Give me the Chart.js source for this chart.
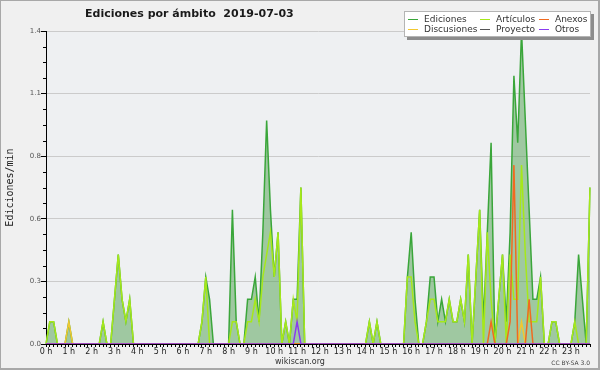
<!DOCTYPE html>
<html>
<head>
<meta charset="utf-8">
<script src="https://cdn.jsdelivr.net/npm/chart.js@4.4.1/dist/chart.umd.min.js"></script>
<style>
  body { margin: 0; background: #f0f0f0; }
  #wrap { position: relative; width: 600px; height: 370px; background: #f0f0f0; overflow: hidden; font-family: 'DejaVu Sans', sans-serif; }
  #myChart { position: absolute; left: 0; top: 0; }
  #frame { position: absolute; left: 0; top: 0; width: 600px; height: 370px; box-sizing: border-box; border: 1px solid #a8a8a8; border-right-width: 2px; border-bottom-width: 2px; pointer-events: none; }
  #title { position: absolute; left: 85px; top: 7px; font-weight: bold; font-size: 11px; line-height: 13px; color: #1a1a1a; white-space: pre; }
  #legend { position: absolute; left: 404px; top: 11px; width: 187px; height: 26px; background: #fff; border: 1px solid #b4b4b4; box-shadow: 3px 3px 0 #8c8c8c; box-sizing: border-box; }
  .item { position: absolute; font-size: 9px; line-height: 10px; color: #333; white-space: nowrap; }
  .item i { display: inline-block; width: 10px; height: 1px; vertical-align: middle; margin-right: 6px; }
  #site { position: absolute; left: 0; width: 600px; top: 357px; text-align: center; font-size: 8px; line-height: 10px; color: #333; }
  #lic { position: absolute; right: 10px; top: 359px; font-size: 6px; line-height: 8px; color: #444; }
</style>
</head>
<body>
<div id="wrap">
  <canvas id="myChart" width="600" height="370"></canvas>
  <div id="title">Ediciones por ámbito  2019-07-03</div>
  <div id="legend">
    <div class="item" style="left:3px;top:2px"><i style="background:#3aa63a"></i>Ediciones</div>
    <div class="item" style="left:3px;top:12px"><i style="background:#f2c830"></i>Discusiones</div>
    <div class="item" style="left:75px;top:2px"><i style="background:#a6e81a"></i>Artículos</div>
    <div class="item" style="left:75px;top:12px"><i style="background:#555"></i>Proyecto</div>
    <div class="item" style="left:134px;top:2px"><i style="background:#f06a20"></i>Anexos</div>
    <div class="item" style="left:134px;top:12px"><i style="background:#8a3cf0"></i>Otros</div>
  </div>
  <div id="site">wikiscan.org</div>
  <div id="lic">CC BY-SA 3.0</div>
  <div id="frame"></div>
</div>
<script>
// tick labels
const hourLabels = ['0 h','1 h','2 h','3 h','4 h','5 h','6 h','7 h','8 h','9 h','10 h','11 h',
  '12 h','13 h','14 h','15 h','16 h','17 h','18 h','19 h','20 h','21 h','22 h','23 h'];

// edits per minute, one value every 10 minutes (one row = one hour)
const ediciones = [
  0, 0.1, 0.1, 0, 0, 0,
  0.1, 0, 0, 0, 0, 0,
  0, 0, 0, 0.1, 0, 0,
  0.2, 0.4, 0.2, 0.1, 0.2, 0,
  0, 0, 0, 0, 0, 0,
  0, 0, 0, 0, 0, 0,
  0, 0, 0, 0, 0, 0.1,
  0.3, 0.2, 0, 0, 0, 0,
  0, 0.6, 0.1, 0, 0, 0.2,
  0.2, 0.3, 0.1, 0.5, 1.0, 0.6,
  0.3, 0.5, 0, 0.1, 0, 0.2,
  0.2, 0.7, 0, 0, 0, 0,
  0, 0, 0, 0, 0, 0,
  0, 0, 0, 0, 0, 0,
  0, 0.1, 0, 0.1, 0, 0,
  0, 0, 0, 0, 0, 0.3,
  0.5, 0.2, 0, 0, 0.1, 0.3,
  0.3, 0.1, 0.2, 0.1, 0.2, 0.1,
  0.1, 0.2, 0.1, 0.4, 0, 0.3,
  0.6, 0.1, 0.5, 0.9, 0, 0.2,
  0.4, 0.1, 0.5, 1.2, 0.9, 1.4,
  1.0, 0.6, 0.2, 0.2, 0.3, 0,
  0, 0.1, 0.1, 0, 0, 0,
  0, 0.1, 0.4, 0.2, 0, 0.7
];
const articulos = [
  0, 0.1, 0.1, 0, 0, 0,
  0, 0, 0, 0, 0, 0,
  0, 0, 0, 0.1, 0, 0,
  0.2, 0.4, 0.2, 0.1, 0.2, 0,
  0, 0, 0, 0, 0, 0,
  0, 0, 0, 0, 0, 0,
  0, 0, 0, 0, 0, 0.1,
  0.3, 0, 0, 0, 0, 0,
  0, 0.1, 0.1, 0, 0, 0.1,
  0.1, 0.2, 0.1, 0.3, 0.4, 0.5,
  0.3, 0.5, 0, 0.1, 0, 0.2,
  0.1, 0.7, 0, 0, 0, 0,
  0, 0, 0, 0, 0, 0,
  0, 0, 0, 0, 0, 0,
  0, 0.1, 0, 0.1, 0, 0,
  0, 0, 0, 0, 0, 0.3,
  0.3, 0.1, 0, 0, 0.1, 0.2,
  0.2, 0.1, 0.1, 0.1, 0.2, 0.1,
  0.1, 0.2, 0.1, 0.4, 0, 0.3,
  0.6, 0, 0.5, 0.2, 0, 0.2,
  0.4, 0, 0.4, 0.2, 0.2, 0.8,
  0.4, 0.1, 0.1, 0.1, 0.3, 0,
  0, 0.1, 0.1, 0, 0, 0,
  0, 0.1, 0, 0, 0, 0.7
];
const anexos = [
  0, 0, 0, 0, 0, 0,  0, 0, 0, 0, 0, 0,  0, 0, 0, 0, 0, 0,  0, 0, 0, 0, 0, 0,
  0, 0, 0, 0, 0, 0,  0, 0, 0, 0, 0, 0,  0, 0, 0, 0, 0, 0,  0, 0, 0, 0, 0, 0,
  0, 0, 0, 0, 0, 0,  0, 0, 0, 0, 0, 0,  0, 0, 0, 0, 0, 0,  0, 0, 0, 0, 0, 0,
  0, 0, 0, 0, 0, 0,  0, 0, 0, 0, 0, 0,  0, 0, 0, 0, 0, 0,  0, 0, 0, 0, 0, 0,
  0, 0, 0, 0, 0, 0,  0, 0, 0, 0, 0, 0,  0, 0, 0, 0, 0, 0,  0, 0, 0, 0.1, 0, 0,
  0, 0, 0.1, 0.8, 0, 0,  0, 0.2, 0, 0, 0, 0,  0, 0, 0, 0, 0, 0,  0, 0, 0, 0, 0, 0
];
const discusiones = [
  0, 0, 0, 0, 0, 0,  0.1, 0, 0, 0, 0, 0,  0, 0, 0, 0, 0, 0,  0, 0, 0, 0, 0, 0,
  0, 0, 0, 0, 0, 0,  0, 0, 0, 0, 0, 0,  0, 0, 0, 0, 0, 0,  0, 0, 0, 0, 0, 0,
  0, 0, 0, 0, 0, 0,  0, 0, 0, 0, 0, 0,  0, 0, 0, 0, 0, 0,  0, 0, 0, 0, 0, 0,
  0, 0, 0, 0, 0, 0,  0, 0, 0, 0, 0, 0,  0, 0, 0, 0, 0, 0,  0, 0, 0, 0, 0, 0,
  0, 0, 0, 0, 0, 0,  0, 0, 0, 0, 0, 0,  0, 0, 0, 0, 0, 0,  0, 0, 0, 0, 0, 0,
  0, 0, 0, 0, 0, 0.1,  0, 0, 0, 0, 0, 0,  0, 0, 0, 0, 0, 0,  0, 0, 0, 0, 0, 0
];
const proyecto = [
  0, 0, 0, 0, 0, 0,  0, 0, 0, 0, 0, 0,  0, 0, 0, 0, 0, 0,  0, 0, 0, 0, 0, 0,
  0, 0, 0, 0, 0, 0,  0, 0, 0, 0, 0, 0,  0, 0, 0, 0, 0, 0,  0, 0, 0, 0, 0, 0,
  0, 0, 0, 0, 0, 0,  0, 0, 0, 0, 0, 0,  0, 0, 0, 0, 0, 0,  0, 0, 0, 0, 0, 0,
  0, 0, 0, 0, 0, 0,  0, 0, 0, 0, 0, 0,  0, 0, 0, 0, 0, 0,  0, 0, 0, 0, 0, 0,
  0, 0, 0, 0, 0, 0,  0, 0, 0, 0, 0, 0,  0, 0, 0, 0, 0, 0,  0, 0, 0, 0, 0, 0,
  0, 0, 0, 0, 0, 0,  0, 0, 0, 0, 0, 0,  0, 0, 0, 0, 0, 0,  0, 0, 0, 0, 0, 0
];
const otros = [
  0, 0, 0, 0, 0, 0,  0, 0, 0, 0, 0, 0,  0, 0, 0, 0, 0, 0,  0, 0, 0, 0, 0, 0,
  0, 0, 0, 0, 0, 0,  0, 0, 0, 0, 0, 0,  0, 0, 0, 0, 0, 0,  0, 0, 0, 0, 0, 0,
  0, 0, 0, 0, 0, 0,  0, 0, 0, 0, 0, 0,  0, 0, 0, 0, 0, 0,  0.1, 0, 0, 0, 0, 0,
  0, 0, 0, 0, 0, 0,  0, 0, 0, 0, 0, 0,  0, 0, 0, 0, 0, 0,  0, 0, 0, 0, 0, 0,
  0, 0, 0, 0, 0, 0,  0, 0, 0, 0, 0, 0,  0, 0, 0, 0, 0, 0,  0, 0, 0, 0, 0, 0,
  0, 0, 0, 0, 0, 0,  0, 0, 0, 0, 0, 0,  0, 0, 0, 0, 0, 0,  0, 0, 0, 0, 0, 0
];

// 10 minute slots
const slots = [];
for (let h = 0; h < 24; h++) {
  for (let m = 0; m < 60; m += 10) slots.push(h + ':' + String(m).padStart(2, '0'));
}

Chart.defaults.font.family = "'DejaVu Sans', sans-serif";

// grey-blue plot background
const plotBg = {
  id: 'plotBg',
  beforeDraw(chart) {
    const { ctx, chartArea: a } = chart;
    ctx.save();
    ctx.fillStyle = '#eef0f2';
    ctx.fillRect(a.left, a.top, a.right - a.left, a.bottom - a.top);
    ctx.restore();
  }
};

// short minor ticks on the y axis
const minorTicks = {
  id: 'minorTicks',
  afterDraw(chart) {
    const y = chart.scales.y, ctx = chart.ctx;
    ctx.save();
    ctx.strokeStyle = '#000';
    ctx.lineWidth = 1;
    y.ticks.forEach((t, i) => {
      if (i % 4 === 0) return;
      const py = Math.round(y.getPixelForValue(t.value)) + 0.5;
      ctx.beginPath();
      ctx.moveTo(y.right - 3, py);
      ctx.lineTo(y.right, py);
      ctx.stroke();
    });
    ctx.restore();
  }
};

function serie(label, data, color, order) {
  return { label, data, borderColor: color, backgroundColor: color, borderWidth: 1.5,
    pointRadius: 0, tension: 0, fill: false, order };
}

const edic = serie('Ediciones', ediciones, '#3aa63a', 6);
edic.fill = 'origin';
edic.backgroundColor = 'rgba(80,160,80,0.5)';

const data = {
  labels: slots,
  datasets: [
    edic,
    serie('Discusiones', discusiones, '#f2c830', 3),
    serie('Artículos', articulos, '#a6e81a', 5),
    serie('Proyecto', proyecto, '#555555', 4),
    serie('Anexos', anexos, '#f06a20', 2),
    serie('Otros', otros, '#8a3cf0', 1)
  ]
};

const config = {
  type: 'line',
  data,
  options: {
    responsive: false,
    animation: false,
    layout: { padding: { top: 31, right: 10, left: 0, bottom: 0 } },
    plugins: { legend: { display: false }, tooltip: { enabled: false } },
    scales: {
      x: {
        type: 'category',
        offset: false,
        z: 1,
        grid: { display: true, drawOnChartArea: false, drawTicks: true, tickLength: 3, tickColor: '#000' },
        border: { color: '#000' },
        ticks: {
          autoSkip: false, maxRotation: 0, padding: 0, color: '#222', font: { size: 8 },
          callback: (v, i) => (i % 6 === 0 ? hourLabels[i / 6] : '')
        },
        afterFit: s => { s.height = 26; }
      },
      y: {
        min: 0, max: 1.4,
        grid: {
          color: c => (c.index % 4 === 0 ? '#cbcbcb' : 'rgba(0,0,0,0)'),
          tickColor: c => (c.index % 4 === 0 ? '#000' : 'rgba(0,0,0,0)'),
          tickLength: 5
        },
        border: { color: '#000' },
        ticks: {
          stepSize: 0.07, maxTicksLimit: 21, autoSkip: false, padding: 0, color: '#555', font: { size: 7 },
          callback: (v, i) => (i % 4 === 0 ? v.toFixed(1) : '')
        },
        title: {
          display: true, text: 'Ediciones/min', color: '#222',
          font: { family: "'DejaVu Sans Mono', monospace", size: 10 },
          padding: { top: 4, bottom: 0 }
        },
        afterFit: s => { s.width = 46; }
      }
    }
  },
  plugins: [plotBg, minorTicks]
};

const myChart = new Chart(document.getElementById('myChart'), config);
</script>
</body>
</html>
